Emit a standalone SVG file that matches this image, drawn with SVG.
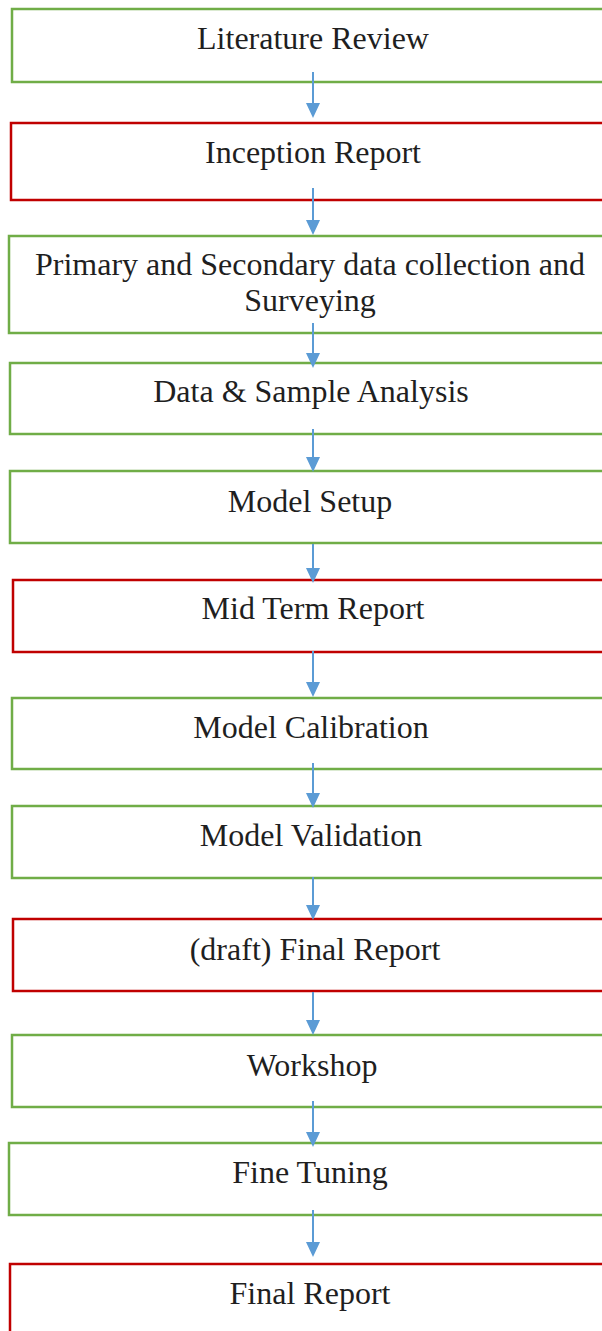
<svg xmlns="http://www.w3.org/2000/svg" width="602" height="1331" viewBox="0 0 602 1331">
  <style>
    .g { fill: #ffffff; stroke: #70AD47; stroke-width: 2.5; }
    .r { fill: #ffffff; stroke: #C00000; stroke-width: 2.5; }
    .t { font-family: "Liberation Serif", "Times New Roman", serif; font-size: 32px; fill: #1f1f1f; text-anchor: middle; }
    .c { stroke: #5B9BD5; stroke-width: 2; fill: none; marker-end: url(#ah); }
  </style>
  <defs>
    <marker id="ah" markerUnits="userSpaceOnUse" markerWidth="15" markerHeight="14" refX="0" refY="7" orient="auto">
      <path d="M0,0 L15,7 L0,14 Z" fill="#5B9BD5"/>
    </marker>
  </defs>
  <rect width="602" height="1331" fill="#ffffff"/>

  <g id="n1"><rect class="g" x="12" y="9" width="620" height="73"/><text class="t" x="313" y="49">Literature Review</text></g>
  <g id="n2"><rect class="r" x="11" y="123" width="620" height="77"/><text class="t" x="313" y="163">Inception Report</text></g>
  <g id="n3"><rect class="g" x="9" y="236" width="620" height="97"/><text class="t" x="310" y="275">Primary and Secondary data collection and</text><text class="t" x="310" y="311">Surveying</text></g>
  <g id="n4"><rect class="g" x="10" y="363" width="620" height="71"/><text class="t" x="311" y="402">Data &amp; Sample Analysis</text></g>
  <g id="n5"><rect class="g" x="10" y="471" width="620" height="72"/><text class="t" x="310" y="512">Model Setup</text></g>
  <g id="n6"><rect class="r" x="13" y="580" width="620" height="72"/><text class="t" x="313" y="619">Mid Term Report</text></g>
  <g id="n7"><rect class="g" x="12" y="698" width="620" height="71"/><text class="t" x="311" y="738">Model Calibration</text></g>
  <g id="n8"><rect class="g" x="12" y="806" width="620" height="72"/><text class="t" x="311" y="846">Model Validation</text></g>
  <g id="n9"><rect class="r" x="13" y="919" width="620" height="72"/><text class="t" x="315" y="960">(draft) Final Report</text></g>
  <g id="n10"><rect class="g" x="12" y="1035" width="620" height="72"/><text class="t" x="312" y="1076">Workshop</text></g>
  <g id="n11"><rect class="g" x="9" y="1143" width="620" height="72"/><text class="t" x="310" y="1183">Fine Tuning</text></g>
  <g id="n12"><rect class="r" x="10" y="1264" width="620" height="90"/><text class="t" x="310" y="1304">Final Report</text></g>

  <g id="connectors">
    <path class="c" d="M313,72 V103"/>
    <path class="c" d="M313,188 V220"/>
    <path class="c" d="M313,323 V353"/>
    <path class="c" d="M313,429 V457"/>
    <path class="c" d="M313,544 V568"/>
    <path class="c" d="M313,651 V682"/>
    <path class="c" d="M313,763 V793"/>
    <path class="c" d="M313,877 V905"/>
    <path class="c" d="M313,992 V1020"/>
    <path class="c" d="M313,1101 V1132"/>
    <path class="c" d="M313,1210 V1242"/>
  </g>
</svg>
